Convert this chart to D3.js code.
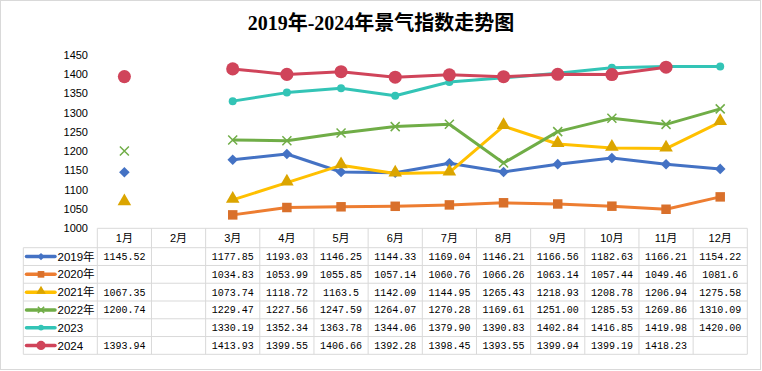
<!DOCTYPE html>
<meta charset="utf-8">
<style>
  body { margin: 0; background: #fff; }
  text { font-family: "Liberation Sans", "Noto Sans CJK SC", sans-serif; }
</style>
<svg width="762" height="371"></svg>
<script src="https://d3js.org/d3.v7.min.js"></script>
<script>

// data
var months = ["1月","2月","3月","4月","5月","6月","7月","8月","9月","10月","11月","12月"];
var seriesNames = ["2019年","2020年","2021年","2022年","2023","2024"];
var v2019 = ["1145.52",null,"1177.85","1193.03","1146.25","1144.33","1169.04","1146.21","1166.56","1182.63","1166.21","1154.22"];
var v2020 = [null,null,"1034.83","1053.99","1055.85","1057.14","1060.76","1066.26","1063.14","1057.44","1049.46","1081.6"];
var v2021 = ["1067.35",null,"1073.74","1118.72","1163.5","1142.09","1144.95","1265.43","1218.93","1208.78","1206.94","1275.58"];
var v2022 = ["1200.74",null,"1229.47","1227.56","1247.59","1264.07","1270.28","1169.61","1251.00","1285.53","1269.86","1310.09"];
var v2023 = [null,null,"1330.19","1352.34","1363.78","1344.06","1379.90","1390.83","1402.84","1416.85","1419.98","1420.00"];
var v2024 = ["1393.94",null,"1413.93","1399.55","1406.66","1392.28","1398.45","1393.55","1399.94","1399.19","1418.23",null];
var yTicks = [1000,1050,1100,1150,1200,1250,1300,1350,1400,1450];

var allValues = [v2019, v2020, v2021, v2022, v2023, v2024];
var lineColors = ["#4472C4","#ED7D31","#FFC000","#70AD47","#33C4B6","#D0445A"];
var markColors = ["#4472C4","#D9702B","#DBA500","#70AD47","#33C4B6","#D0445A"];
var markTypes  = ["diamond","square","triangle","x","dot","bigdot"];

var svg = d3.select("svg");
var gridColor = "#d9d9d9";

svg.append("rect")
  .attr("x", 0.5).attr("y", 0.5)
  .attr("width", 760).attr("height", 369)
  .attr("fill", "#fff").attr("stroke", gridColor);

svg.append("text")
  .attr("x", 381).attr("y", 30)
  .attr("text-anchor", "middle")
  .style("font-family", "'Liberation Serif', 'Noto Sans CJK SC', serif")
  .style("font-weight", "bold")
  .style("font-size", "20px")
  .text("2019年-2024年景气指数走势图");

var x = d3.scaleBand().domain(months).range([97.3, 747.3]);
var y = d3.scaleLinear().domain([1000, 1450]).range([228.3, 55]);

// y labels
svg.append("g").selectAll("text")
  .data(yTicks)
  .enter().append("text")
  .attr("x", 88)
  .attr("y", function(d) { return y(d); })
  .attr("dy", "0.35em")
  .attr("text-anchor", "end")
  .style("font-size", "11px")
  .text(function(d) { return d; });

function marker(g, type, color, cx, cy, s) {
  s = s || 1;
  if (type == "x") {
    var r = 4.5 * s;
    g.append("path")
      .attr("d", "M" + (cx - r) + "," + (cy - r) + "L" + (cx + r) + "," + (cy + r) +
                 "M" + (cx - r) + "," + (cy + r) + "L" + (cx + r) + "," + (cy - r))
      .attr("stroke", color).attr("stroke-width", 1.5).attr("fill", "none");
    return;
  }
  var sym, size, rot = 0;
  if (type == "diamond") { sym = d3.symbolSquare; size = 56; rot = 45; }
  if (type == "square") { sym = d3.symbolSquare; size = 90; }
  if (type == "triangle") { sym = d3.symbolTriangle; size = 80; }
  if (type == "dot") { sym = d3.symbolCircle; size = 50; }
  if (type == "bigdot") { sym = d3.symbolCircle; size = 135; }
  g.append("path")
    .attr("d", d3.symbol().type(sym).size(size * s * s)())
    .attr("transform", "translate(" + cx + "," + (type == "triangle" ? cy - 1 : cy) + ") rotate(" + rot + ")")
    .attr("fill", color);
}

// lines + markers
var cx = function(i) { return x(months[i]) + x.bandwidth() / 2; };
allValues.forEach(function(vals, k) {
  var g = svg.append("g");
  var line = d3.line()
    .defined(function(d) { return d != null; })
    .x(function(d, i) { return cx(i); })
    .y(function(d) { return y(+d); });
  g.append("path")
    .datum(vals)
    .attr("d", line)
    .attr("fill", "none")
    .attr("stroke", lineColors[k])
    .attr("stroke-width", 3)
    .attr("stroke-linejoin", "round");
  vals.forEach(function(d, i) {
    if (d != null) marker(g, markTypes[k], markColors[k], cx(i), y(+d));
  });
});

// data table
var rowTop = 247.7, rowH = 17.77, legendLeft = 23.3;
var tbl = svg.append("g");
var x0 = x.range()[0], x1 = x.range()[1];

// header
tbl.append("line").attr("x1", x0).attr("x2", x1).attr("y1", 228.3).attr("y2", 228.3).attr("stroke", gridColor);
months.forEach(function(m, i) {
  tbl.append("text")
    .attr("x", cx(i)).attr("y", 238.5).attr("dy", "0.35em")
    .attr("text-anchor", "middle")
    .style("font-size", "11px")
    .text(m);
});
d3.range(13).forEach(function(i) {
  var xx = x0 + i * x.step();
  tbl.append("line").attr("x1", xx).attr("x2", xx)
    .attr("y1", 228.3).attr("y2", rowTop + rowH * 6).attr("stroke", gridColor);
});
tbl.append("line").attr("x1", legendLeft).attr("x2", legendLeft)
  .attr("y1", rowTop).attr("y2", rowTop + rowH * 6).attr("stroke", gridColor);
d3.range(7).forEach(function(r) {
  tbl.append("line").attr("x1", legendLeft).attr("x2", x1)
    .attr("y1", rowTop + r * rowH).attr("y2", rowTop + r * rowH).attr("stroke", gridColor);
});

allValues.forEach(function(vals, k) {
  var cy = rowTop + rowH * k + rowH / 2;
  tbl.append("line").attr("x1", 26.5).attr("x2", 55).attr("y1", cy).attr("y2", cy)
    .attr("stroke", lineColors[k]).attr("stroke-width", 3.5).attr("stroke-linecap", "round");
  marker(tbl, markTypes[k], markColors[k], 41, cy, 0.7);
  tbl.append("text")
    .attr("x", 57.5).attr("y", cy).attr("dy", "0.36em")
    .style("font-size", "11.5px")
    .text(seriesNames[k]);
  vals.forEach(function(d, i) {
    if (d == null) return;
    tbl.append("text")
      .attr("x", cx(i)).attr("y", cy).attr("dy", "0.36em")
      .attr("text-anchor", "middle")
      .style("font-family", "'Liberation Mono', monospace")
      .style("font-size", "10px")
      .text(d);
  });
});

</script>
